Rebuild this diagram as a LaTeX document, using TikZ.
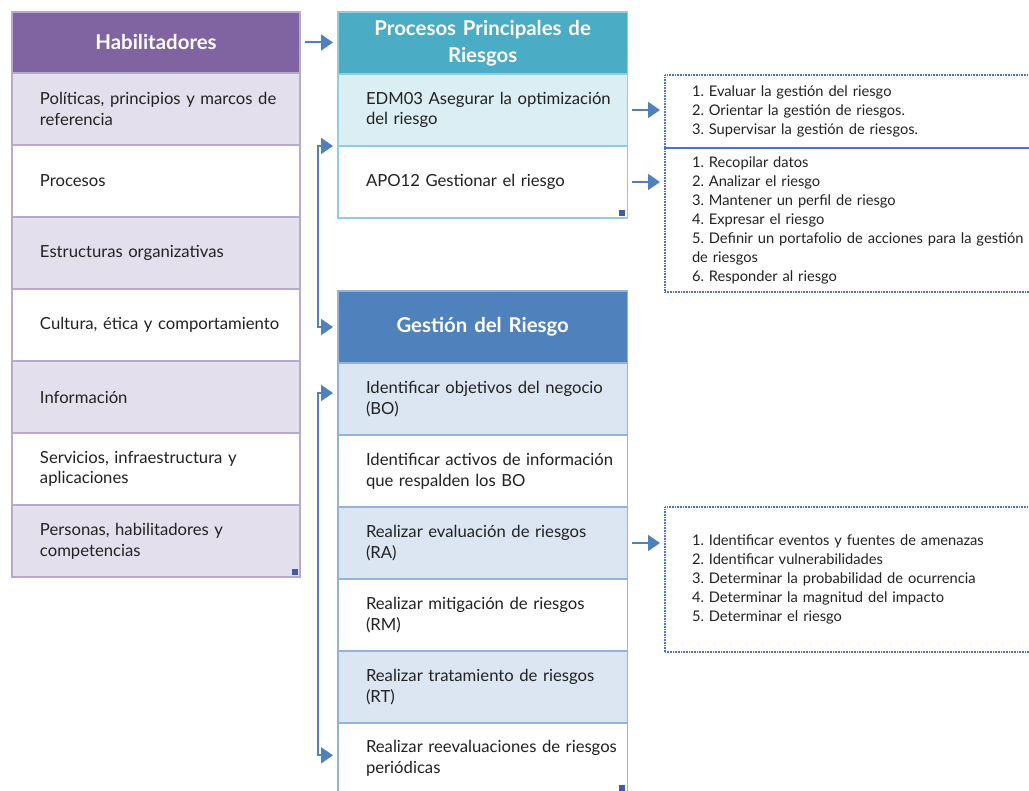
\documentclass[tikz,border=0pt]{standalone}
\usepackage{fontspec}
\setmainfont{Lato}
\frenchspacing
\usetikzlibrary{arrows.meta,positioning}

\definecolor{habhead}{HTML}{8064A2}
\definecolor{habrow}{HTML}{E4DFEC}
\definecolor{habline}{HTML}{B8A9CF}
\definecolor{prohead}{HTML}{4BACC6}
\definecolor{prorow}{HTML}{DAEEF3}
\definecolor{proline}{HTML}{92CDDC}
\definecolor{gesthead}{HTML}{4F81BD}
\definecolor{gestrow}{HTML}{DCE6F2}
\definecolor{gestline}{HTML}{95B3D7}
\definecolor{arrowblue}{HTML}{4F81BD}
\definecolor{markblue}{HTML}{4358B0}
\definecolor{notedot}{HTML}{4A76C0}
\definecolor{ink}{HTML}{222222}

\begin{document}
\begin{tikzpicture}[
    x=0.75pt,y=-0.75pt,
    node distance=0pt,
    frame/.style={draw,line width=1.2pt,outer sep=0pt,inner xsep=5pt,
      text width=206pt,minimum height=54pt},
    cell/.style={frame,align=left,text=ink,
      execute at begin node={\leftskip=16pt\hyphenpenalty=10000},
      font=\fontsize{12.5}{15.5}\selectfont},
    head/.style={frame,align=center,text=white,
      font=\fontsize{15.3}{20}\selectfont\bfseries},
    habcell/.style={cell,draw=habline},
    procell/.style={cell,draw=proline,text width=207pt},
    gestcell/.style={cell,draw=gestline,text width=207pt},
    note/.style={draw=notedot,line width=2.1pt,dash pattern=on 0.6pt off 0.6pt,
      outer sep=0pt,inner xsep=20.25pt,text width=262pt,align=left,
      text=ink,font=\fontsize{11}{14.25}\selectfont},
    flow/.style={-{Triangle[length=9pt,width=12pt]},line width=1.5pt,
      draw=arrowblue,shorten <=3.75pt,shorten >=3.75pt},
    link/.style={flow,{Triangle[length=9pt,width=12pt]}-{Triangle[length=9pt,width=12pt]}},
    corner/.style={fill=markblue}
  ]
    \useasboundingbox (0,0) rectangle (1029,791);

    % Habilitadores
    \node[head,draw=habline,fill=habhead,minimum height=45.75pt,
      anchor=north west] (hab) at (12,12) {Habilitadores};
    \node[habcell,fill=habrow,below=of hab] (hab1)
      {Políticas, principios y marcos de\\referencia};
    \node[habcell,fill=white,below=of hab1] (hab2) {Procesos};
    \node[habcell,fill=habrow,below=of hab2] (hab3) {Estructuras organizativas};
    \node[habcell,fill=white,below=of hab3] (hab4) {Cultura, ética y comportamiento};
    \node[habcell,fill=habrow,below=of hab4] (hab5) {Información};
    \node[habcell,fill=white,below=of hab5] (hab6)
      {Servicios, infraestructura y\\aplicaciones};
    \node[habcell,fill=habrow,below=of hab6] (hab7)
      {Personas, habilitadores y\\competencias};
    \fill[corner] ([shift={(-6pt,1.2pt)}]hab7.south east) rectangle ++(4.5pt,4.5pt);

    % Procesos principales
    \node[head,draw=proline,fill=prohead,minimum height=46.5pt,text width=207pt,
      anchor=north west] (pro) at (338,12) {Procesos Principales de\\Riesgos};
    \node[procell,fill=prorow,below=of pro] (edm)
      {EDM03 Asegurar la optimización\\del riesgo};
    \node[procell,fill=white,below=of edm] (apo)
      {APO12 Gestionar el riesgo};
    \fill[corner] ([shift={(-6pt,1.2pt)}]apo.south east) rectangle ++(4.5pt,4.5pt);

    % Gestion del riesgo
    \node[head,draw=gestline,fill=gesthead,text width=207pt,
      anchor=north west] (gr) at (338,291) {Gestión del Riesgo};
    \node[gestcell,fill=gestrow,below=of gr] (bo)
      {Identificar objetivos del negocio\\(BO)};
    \node[gestcell,fill=white,below=of bo] (ia)
      {Identificar activos de información\\que respalden los BO};
    \node[gestcell,fill=gestrow,below=of ia] (ra)
      {Realizar evaluación de riesgos\\(RA)};
    \node[gestcell,fill=white,below=of ra] (rm)
      {Realizar mitigación de riesgos\\(RM)};
    \node[gestcell,fill=gestrow,below=of rm] (rt)
      {Realizar tratamiento de riesgos\\(RT)};
    \node[gestcell,fill=white,minimum height=52.5pt,below=of rt] (rp)
      {Realizar reevaluaciones de riesgos\\periódicas};
    \fill[corner] ([shift={(-6pt,1.2pt)}]rp.south east) rectangle ++(4.5pt,4.5pt);

    % Actividades
    \node[note,minimum height=54.75pt,anchor=north west] (act1) at (665,75)
      {1. Evaluar la gestión del riesgo\\
       2. Orientar la gestión de riesgos.\\
       3. Supervisar la gestión de riesgos.};
    \node[note,minimum height=108pt,anchor=north west] (act2) at (665,148)
      {1. Recopilar datos\\
       2. Analizar el riesgo\\
       3. Mantener un perfil de riesgo\\
       4. Expresar el riesgo\\
       5. Definir un portafolio de acciones para la gestión\\
       de riesgos\\
       6. Responder al riesgo};
    \node[note,minimum height=108.75pt,anchor=north west] (act3) at (665,507)
      {1. Identificar eventos y fuentes de amenazas\\
       2. Identificar vulnerabilidades\\
       3. Determinar la probabilidad de ocurrencia\\
       4. Determinar la magnitud del impacto\\
       5. Determinar el riesgo};

    % Conectores
    \coordinate (railA) at (318,0);
    \coordinate (boIn) at ([yshift=4.5pt]bo.west);
    \coordinate (rpIn) at ([yshift=2pt]rp.west);
    \draw[flow] (hab.east) -- (hab.east -| pro.west);
    \draw[flow] (edm.east) -- (edm.east -| act1.west);
    \draw[flow] (apo.east) -- (apo.east -| act2.west);
    \draw[flow] (ra.east) -- (ra.east -| act3.west);
    \draw[link] (apo.north west) -- (railA |- apo.north west) |- (gr.west);
    \draw[link] (boIn) -- (railA |- boIn) |- (rpIn);
  \end{tikzpicture}
\end{document}
